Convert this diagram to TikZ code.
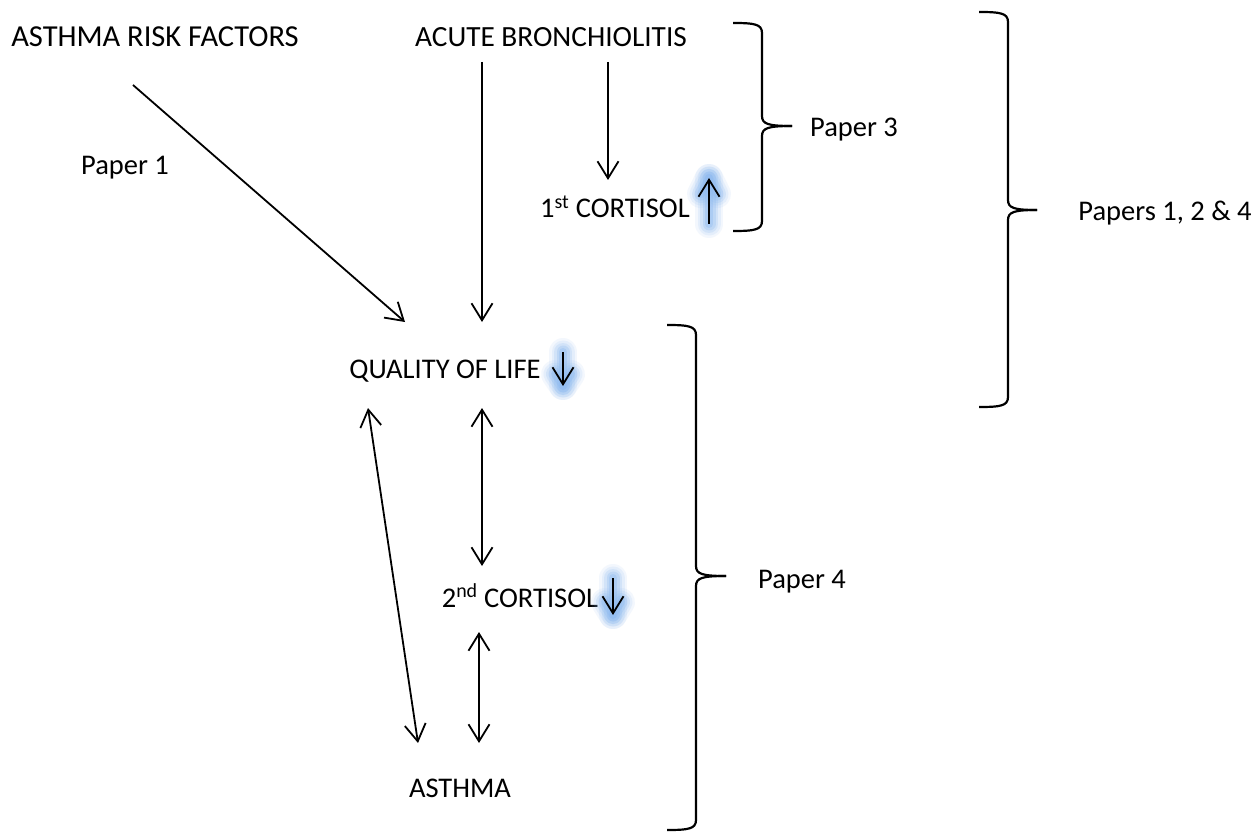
\documentclass[tikz,border=0pt]{standalone}
\usepackage{fontspec}
\setmainfont{Carlito}
\usetikzlibrary{arrows.meta}
\definecolor{glowc}{RGB}{140,185,240}
\tikzset{
  lbl/.style={anchor=base, inner sep=0pt, font=\fontsize{28.5}{34}\selectfont},
  arr/.style={line width=1.8pt, -{Straight Barb[length=17pt,width=21pt,line width=1.8pt]}},
  darr/.style={line width=1.8pt, {Straight Barb[length=17pt,width=21pt,line width=1.8pt]}-{Straight Barb[length=17pt,width=21pt,line width=1.8pt]}},
  brace/.style={line width=2.2pt, line join=round},
  glowline/.style={glowc, line cap=round, line join=round}
}
\newcommand{\myglow}[3]{% x, y-start (tail), y-end (tip)
  \foreach \w/\o in {28/0.1,23/0.14,18/0.2,13/0.28,8/0.35}{
    \draw[glowline, line width=\w pt, opacity=\o] ({#1},{#2}) -- ({#1},{#3});
    \draw[glowline, line width=\w pt, opacity=\o] ({#1-8},{#3+(#2-#3)*0.35}) -- ({#1},{#3}) -- ({#1+8},{#3+(#2-#3)*0.35});
  }
  \draw[arr] ({#1},{#2}) -- ({#1},{#3});
}
% brace: x-left, spine x, tip x, y-top, y-mid, y-bottom
\newcommand{\mybrace}[6]{%
  \draw[brace] ({#1},{#4}) .. controls ({#2-8},{#4}) and ({#2},{#4+1}) .. ({#2},{#4+10})
    -- ({#2},{#5-10}) .. controls ({#2},{#5-2}) and ({#2+6},{#5}) .. ({#3},{#5});
  \draw[brace] ({#1},{#6}) .. controls ({#2-8},{#6}) and ({#2},{#6-1}) .. ({#2},{#6-10})
    -- ({#2},{#5+10}) .. controls ({#2},{#5+2}) and ({#2+6},{#5}) .. ({#3},{#5});
}
\begin{document}
\begin{tikzpicture}[x=1pt,y=-1pt]
\useasboundingbox (0,0) rectangle (1255,834);
\fill[white] (0,0) rectangle (1255,834);

\node[lbl, font=\fontsize{30.5}{36}\selectfont] (arf) at (155,47) {ASTHMA RISK FACTORS};
\node[lbl, font=\fontsize{29.3}{35}\selectfont] (ab) at (551,47) {ACUTE BRONCHIOLITIS};
\node[lbl] (p1) at (125,175) {Paper 1};
\node[lbl] (c1) at (615,218) {1\textsuperscript{st} CORTISOL};
\node[lbl] (qol) at (445,378) {QUALITY OF LIFE};
\node[lbl] (c2) at (520,607) {2\textsuperscript{nd} CORTISOL};
\node[lbl] (ast) at (460,797) {ASTHMA};
\node[lbl] (p3) at (854,137) {Paper 3};
\node[lbl] (p124) at (1165,221) {Papers 1, 2 \& 4};
\node[lbl] (p4) at (802,588) {Paper 4};

\coordinate (a1s) at (133,85);  \coordinate (a1e) at (405,322);
\coordinate (a2s) at (482,62);  \coordinate (a2e) at (482,322);
\coordinate (a3s) at (608,62);  \coordinate (a3e) at (608,180);
\coordinate (a4s) at (482,408); \coordinate (a4e) at (482,566);
\coordinate (a5s) at (368,408); \coordinate (a5e) at (418,743);
\coordinate (a6s) at (479,632); \coordinate (a6e) at (479,743);

\draw[arr] (a1s) -- (a1e);
\draw[arr] (a2s) -- (a2e);
\draw[arr] (a3s) -- (a3e);
\draw[darr] (a4s) -- (a4e);
\draw[darr] (a5s) -- (a5e);
\draw[darr] (a6s) -- (a6e);

\myglow{709}{224}{178}
\myglow{563}{352}{386}
\myglow{613}{578}{615}

\mybrace{733}{762}{792}{23}{126}{231}
\mybrace{979}{1008}{1037}{12}{210}{407}
\mybrace{667}{696}{726}{325}{576}{830}
\end{tikzpicture}
\end{document}
